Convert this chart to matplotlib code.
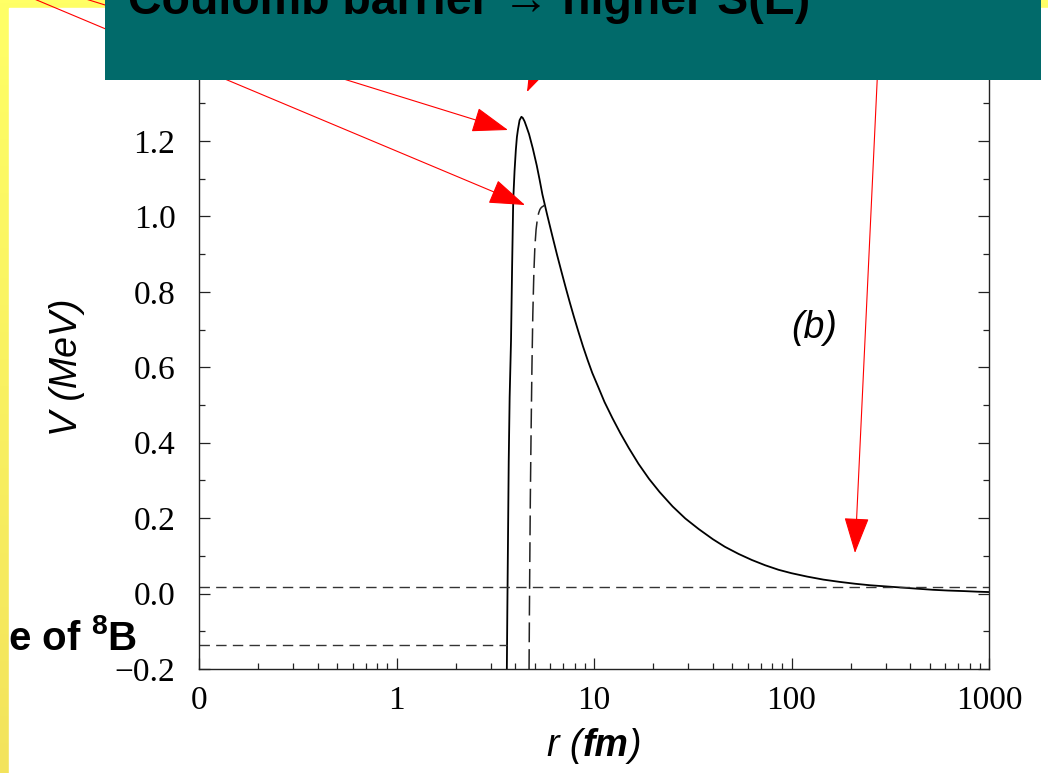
import numpy as np
import matplotlib
import matplotlib.pyplot as plt
from matplotlib.patches import Rectangle, FancyArrowPatch
from matplotlib.colors import LinearSegmentedColormap
from matplotlib.ticker import MultipleLocator, NullFormatter
from matplotlib.offsetbox import TextArea, HPacker, AnchoredOffsetbox

plt.rcParams['mathtext.fontset'] = 'custom'
plt.rcParams['mathtext.rm'] = 'Liberation Sans'
plt.rcParams['mathtext.bf'] = 'Liberation Sans:bold'
plt.rcParams['mathtext.it'] = 'Liberation Sans:italic'

# potential, r in fm, V in MeV
r_solid = [3.62, 3.64, 3.67, 3.70, 3.74, 3.80, 3.85, 3.90, 3.96, 4.02, 4.07, 4.12,
           4.20, 4.29, 4.36, 4.45, 4.55, 4.69, 4.90, 5.13, 5.30, 5.48, 5.80, 6.14,
           6.50, 6.87, 7.20, 7.54, 7.90, 8.33, 8.80, 9.30, 9.80, 10.5, 11.3, 12.4,
           13.6, 15.0, 16.8, 19.0, 21.5, 25.0, 29.0, 33.9, 40.0, 46.0, 54.0, 63.0,
           73.6, 86.0, 100, 120, 145, 175, 210, 250, 300, 360, 430, 520,
           620, 750, 870, 1000]
v_solid = [-0.20, -0.05, 0.15, 0.35, 0.52, 0.67, 0.87, 1.044, 1.12, 1.176, 1.21, 1.23,
           1.255, 1.264, 1.261, 1.252, 1.238, 1.218, 1.180, 1.135, 1.098, 1.058, 1.003, 0.950,
           0.898, 0.850, 0.810, 0.772, 0.735, 0.695, 0.655, 0.618, 0.585, 0.548, 0.508, 0.465,
           0.425, 0.386, 0.344, 0.304, 0.269, 0.231, 0.199, 0.171, 0.144, 0.124, 0.105, 0.089,
           0.075, 0.063, 0.054, 0.045, 0.037, 0.031, 0.026, 0.022, 0.019, 0.016, 0.013, 0.010,
           0.008, 0.0065, 0.005, 0.004]

r_dash = [4.69, 4.71, 4.73, 4.76, 4.80, 4.85, 4.90, 4.96, 5.02, 5.09, 5.16, 5.24,
          5.32, 5.38, 5.45, 5.53, 5.62]
v_dash = [-0.20, -0.05, 0.08, 0.25, 0.42, 0.60, 0.74, 0.85, 0.92, 0.965, 0.99, 1.008,
          1.018, 1.022, 1.025, 1.027, 1.030]

e_gamow = 0.0185      # upper dashed level
e_bind = -0.137       # lower dashed level
r_bind_end = 3.62

xticks = [0.1, 1, 10, 100, 1000]
xticklabels = ['0', '1', '10', '100', '1000']
yticks = [-0.2, 0.0, 0.2, 0.4, 0.6, 0.8, 1.0, 1.2, 1.4]

W, H = 1048, 773
fig = plt.figure(figsize=(W / 100, H / 100), dpi=100)


def fpos(x, y):
    return (x / W, 1 - y / H)


# slide background: yellow border, white picture area
bg = fig.add_axes([0, 0, 1, 1], zorder=-5)
grad = np.linspace(0, 1, 256).reshape(-1, 1)
cm = LinearSegmentedColormap.from_list('slide', ['#ffff66', '#f3e35c'])
bg.imshow(grad, cmap=cm, aspect='auto', extent=[0, W, H, 0])
bg.add_patch(Rectangle((9, 8), W - 9, H - 8, color='white'))
bg.set_xlim(0, W)
bg.set_ylim(H, 0)
bg.axis('off')

ax = fig.add_axes([199 / W, (H - 669) / H, (989 - 199) / W, (669 - 65.5) / H])
ax.plot(r_solid, v_solid, color='black', lw=1.3)
ax.plot(r_dash, v_dash, color='#222222', lw=1.1, dashes=(13, 4.5))
ax.plot([0.1, 1000], [e_gamow, e_gamow], color='#333333', lw=1.0, dashes=(7.5, 4.5))
ax.plot([0.1, r_bind_end], [e_bind, e_bind], color='#333333', lw=1.0, dashes=(7.5, 4.5))

ax.set_xscale('log')
ax.set_xlim(0.1, 1000)
ax.set_ylim(-0.2, 1.4)
ax.set_xticks(xticks)
ax.set_xticklabels(xticklabels)
ax.xaxis.set_minor_formatter(NullFormatter())
ax.set_yticks(yticks)
ax.set_yticklabels([('%.1f' % v).replace('-', '\u2212') for v in yticks])
ax.yaxis.set_minor_locator(MultipleLocator(0.1))
ax.tick_params(which='both', direction='in', top=True, right=True, width=0.9, color='#222222')
ax.tick_params(which='major', length=8)
ax.tick_params(which='minor', length=4)
ax.tick_params(axis='x', pad=12)
ax.tick_params(axis='y', pad=17)
for lab in ax.get_xticklabels() + ax.get_yticklabels():
    lab.set_family('Liberation Serif')
    lab.set_fontsize(24)
for sp in ax.spines.values():
    sp.set_linewidth(1.0)
    sp.set_color('#222222')

# axis labels and panel tag
fig.text(*fpos(67, 367), 'V (MeV)', rotation=90, style='italic', family='Liberation Sans',
         size=27, ha='center', va='center')
fig.text(*fpos(814, 328), '(b)', style='italic', family='Liberation Sans', size=27,
         ha='center', va='center')
tp = dict(family='Liberation Sans', style='italic', size=27)
xl = HPacker(children=[TextArea('r (', textprops=tp),
                       TextArea('fm', textprops=dict(tp, weight='bold')),
                       TextArea(')', textprops=tp)],
             align='baseline', pad=0, sep=0)
fig.add_artist(AnchoredOffsetbox(loc='center', child=xl, frameon=False, pad=0, borderpad=0,
                                 bbox_to_anchor=fpos(594, 746), bbox_transform=fig.transFigure))

fig.text(*fpos(137, 650), r'e of $^\mathbf{8}$B', weight='bold', family='Liberation Sans',
         size=29, ha='right', va='baseline')

# red arrows
arrows = [((60, -9), (508, 130)),
          ((20, -7), (525, 205)),
          ((556, 30), (527, 92)),
          ((880, 20), (855, 553))]
for a, b in arrows:
    fig.add_artist(FancyArrowPatch(fpos(*a), fpos(*b), transform=fig.transFigure,
                                   arrowstyle='-|>,head_length=2.3,head_width=0.8',
                                   mutation_scale=10, color='red', lw=0.8,
                                   shrinkA=0, shrinkB=0, zorder=3))

# teal title box
fig.add_artist(Rectangle(fpos(105, 80), (1041 - 105) / W, 80 / H, transform=fig.transFigure,
                         facecolor='#016a6a', edgecolor='none', zorder=5))
fig.text(*fpos(128, 14), 'Coulomb barrier \u2192 higher S(E)', weight='bold',
         family=['Liberation Sans', 'DejaVu Sans'], size=33.5, va='baseline', zorder=6)

fig.savefig('out.png', dpi=100)
